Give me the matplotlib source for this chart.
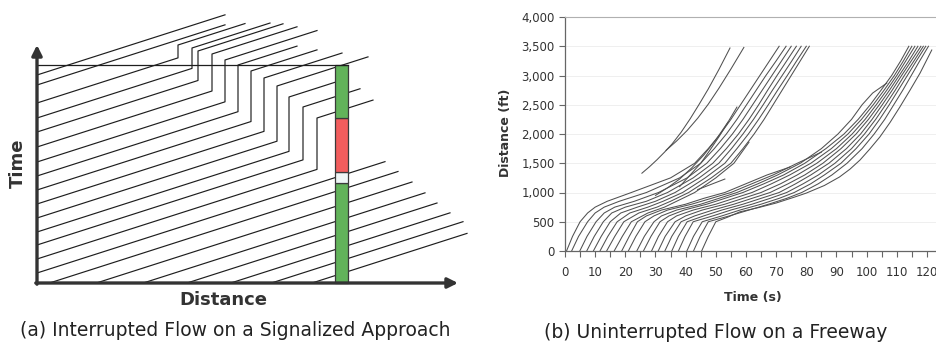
import matplotlib
matplotlib.use("Agg")
import matplotlib.pyplot as plt
from matplotlib.patches import Rectangle
from matplotlib.ticker import MultipleLocator, FuncFormatter

# ---------------- panel (a): schematic, units = screen pixels ----------------
pace = 0.32  # time units per distance unit on the approach

free_low_t0 = [-88, -75, -62, -48, -34, -19, -4, 10]
free_low_end = [430, 426, 413, 400, 388, 375, 361, 348]

queue_t0 = [24, 38, 51, 65, 79, 93, 107, 121, 136, 151, 165, 180]
queue_pos = [280, 266, 252, 240, 227, 214, 201, 188, 175, 161, 155, 141]
queue_go = [165, 176, 186, 197, 205, 212, 218, 223, 229, 232, 235, 238]
queue_end = [336, 323, 305, 331, 305, 280, 260, 280, 260, 246, 233, 208]

free_top_t0 = [198, 208]
free_top_end = [188, 188]

stop_line = [298, 311]
phase_start = [0, 100, 111, 165]
phase_end = [100, 111, 165, 218]
phase_color = ["#62b35a", "#eef6f6", "#f25d5d", "#62b35a"]

# ---------------- panel (b): freeway trajectories (time s, distance ft) ----------------
dist_b = [0, 250, 500, 650, 750, 850, 1000, 1250, 1500, 1750, 2000, 2250, 2500, 2750, 3000, 3250, 3500]
times_b = [
    [0.5, 2.5, 5.0, 7.5, 10.0, 14.0, 22.0, 35.0, 43.0, 47.5, 51.5, 55.0, 58.2, 61.4, 64.6, 67.8, 71.0],
    [2.2, 4.5, 7.5, 10.0, 13.0, 18.0, 27.0, 38.0, 45.0, 49.5, 53.5, 57.0, 60.2, 63.4, 66.6, 70.0, 73.3],
    [4.9, 7.3, 10.3, 13.0, 16.5, 23.0, 31.0, 40.5, 47.0, 51.5, 55.5, 59.0, 62.2, 65.4, 68.6, 71.8, 75.0],
    [7.2, 9.7, 12.7, 15.5, 20.0, 27.0, 34.0, 42.5, 49.0, 53.5, 57.5, 61.0, 64.2, 67.2, 70.3, 73.5, 76.7],
    [9.4, 12.0, 15.0, 18.5, 24.0, 30.0, 36.5, 44.5, 51.0, 55.2, 59.0, 62.5, 65.7, 68.8, 72.0, 75.2, 78.3],
    [11.6, 14.2, 17.3, 21.5, 27.5, 32.5, 39.0, 46.5, 53.0, 57.0, 60.8, 64.2, 67.4, 70.5, 73.7, 76.8, 80.0],
    [13.8, 16.5, 19.5, 24.5, 30.5, 35.0, 41.0, 48.5, 55.0, 59.0, 62.7, 66.0, 69.0, 72.0, 75.0, 78.0, 81.0],
]

dist_c = [0, 250, 500, 600, 700, 800, 900, 1000, 1150, 1300, 1500, 1750, 2000, 2250, 2500, 2750, 3000, 3250, 3500]
times_c = [
    [26.0, 28.5, 31.5, 34.5, 39.5, 47.0, 53.0, 59.0, 66.0, 72.5, 79.5, 86.5, 92.5, 97.2, 101.2, 104.8, 108.3, 111.3, 114.0],
    [28.7, 31.0, 34.0, 37.0, 42.5, 50.0, 56.0, 62.0, 68.5, 74.5, 81.5, 88.3, 93.8, 98.3, 102.2, 105.8, 109.2, 112.2, 115.0],
    [30.9, 33.2, 36.5, 40.0, 45.5, 53.0, 59.0, 65.0, 71.5, 77.0, 83.5, 90.0, 95.2, 99.5, 103.2, 106.7, 110.0, 113.0, 116.0],
    [33.1, 35.4, 38.5, 43.0, 49.0, 56.0, 62.0, 68.0, 74.0, 79.5, 85.5, 91.5, 96.5, 100.6, 104.2, 107.6, 110.8, 114.0, 117.0],
    [35.4, 37.6, 40.5, 46.0, 52.0, 59.0, 65.0, 71.0, 76.5, 81.5, 87.5, 93.3, 98.0, 101.8, 105.2, 108.5, 111.6, 114.8, 118.0],
    [37.6, 39.8, 42.5, 49.0, 55.0, 62.0, 68.0, 73.5, 79.0, 84.0, 89.5, 95.0, 99.3, 103.0, 106.3, 109.5, 112.5, 115.7, 118.8],
    [40.4, 42.6, 45.5, 52.0, 58.0, 65.0, 71.0, 76.0, 81.5, 86.0, 91.5, 96.5, 100.8, 104.3, 107.5, 110.5, 113.5, 116.5, 119.6],
    [42.6, 44.8, 47.5, 54.5, 61.0, 67.5, 73.5, 78.5, 84.0, 88.5, 93.5, 98.5, 102.5, 106.0, 109.0, 112.0, 114.8, 117.6, 120.5],
]

# partial trajectories (enter or leave the camera section mid-way)
part_t = [
    [18.8, 21.3, 24.0, 27.0, 32.0, 40.0, 46.0, 53.0, 60.0, 67.0, 74.6],
    [21.0, 23.5, 26.5, 29.5, 34.0, 42.0, 48.5, 55.0, 62.0, 69.0, 77.0, 85.0],
    [23.8, 26.3, 29.5, 32.0, 37.0, 45.0, 51.0, 57.0, 64.0, 70.5, 78.0, 85.0, 90.5, 95.0, 98.5, 102.0, 106.7],
    [45.3, 47.5, 50.0, 54.0, 58.0, 64.0, 70.0, 76.0, 80.0, 86.0, 91.0, 94.5, 97.8, 101.0, 104.4, 107.8, 111.0, 114.4, 117.7, 121.6],
    [16.3, 19.0, 22.0, 27.5, 33.0, 37.0, 43.0, 50.0, 56.0, 61.0],
    [25.5, 28.0, 30.5, 33.0, 35.5, 38.5, 41.5, 44.5, 47.5, 51.0, 54.7],
    [33.5, 37.0, 40.5, 44.0, 47.5, 51.0, 55.0, 59.3],
    [38.0, 41.5, 45.0, 48.0, 51.0, 54.0, 57.0],
    [44.0, 46.5, 49.0, 51.0, 53.0],
    [30.0, 34.0, 38.0, 42.0, 46.0, 50.0, 54.0],
]
part_d = [
    [0, 250, 500, 600, 700, 800, 900, 1000, 1150, 1300, 1435],
    [0, 250, 500, 600, 700, 800, 900, 1000, 1150, 1300, 1500, 1690],
    [0, 250, 500, 600, 700, 800, 900, 1000, 1150, 1300, 1500, 1750, 2000, 2250, 2500, 2700, 2870],
    [0, 250, 500, 580, 670, 740, 820, 920, 990, 1120, 1265, 1400, 1555, 1740, 1950, 2200, 2460, 2750, 3040, 3436],
    [0, 250, 500, 650, 750, 850, 1000, 1250, 1500, 1860],
    [1330, 1440, 1560, 1690, 1830, 2030, 2260, 2510, 2770, 3100, 3470],
    [1720, 1880, 2060, 2270, 2510, 2780, 3110, 3480],
    [1100, 1300, 1500, 1720, 1950, 2200, 2460],
    [1050, 1100, 1150, 1190, 1230],
    [950, 1080, 1230, 1420, 1640, 1900, 2200],
]

W, H = 936, 345
fig = plt.figure(figsize=(W / 100, H / 100), dpi=100)

# ---- left schematic ----
ax = fig.add_axes([0, 0, 470 / W, 1])
ax.set_xlim(-37, 433)
ax.set_ylim(-62, 283)
ax.axis("off")

lc = "#1e1e1e"
lw = 0.85
for t0, de in zip(free_low_t0, free_low_end):
    d0 = max(0, -t0 / pace)
    ax.plot([d0, de], [t0 + pace * d0, t0 + pace * de], color=lc, lw=lw, zorder=2)

for t0, dq, tg, de in zip(queue_t0, queue_pos, queue_go, queue_end):
    ts = t0 + pace * dq
    ax.plot([0, dq, dq, de], [t0, ts, tg, tg + pace * (de - dq)], color=lc, lw=lw, zorder=2)

for t0, de in zip(free_top_t0, free_top_end):
    ax.plot([0, de], [t0, t0 + pace * de], color=lc, lw=lw, zorder=2)

for a, b, c in zip(phase_start, phase_end, phase_color):
    ax.add_patch(Rectangle((stop_line[0], a), stop_line[1] - stop_line[0], b - a,
                           facecolor=c, edgecolor="#3a3a3a", lw=0.9, zorder=3))

ax.plot([0, stop_line[1]], [phase_end[-1], phase_end[-1]], color=lc, lw=0.9, zorder=4)

arrow = dict(arrowstyle="-|>", lw=2.4, color="#333333", mutation_scale=15,
             shrinkA=0, shrinkB=0)
ax.annotate("", xy=(0, 238), xytext=(0, -1.2), arrowprops=arrow, zorder=5)
ax.annotate("", xy=(421, 0), xytext=(-1.2, 0), arrowprops=arrow, zorder=5)

ax.text(-19, 120, "Time", rotation=90, ha="center", va="center",
        fontsize=13, fontweight="bold", color="#333333")
ax.text(186, -17, "Distance", ha="center", va="center",
        fontsize=13, fontweight="bold", color="#333333")
ax.text(198, -47, "(a) Interrupted Flow on a Signalized Approach",
        ha="center", va="center", fontsize=13.5, color="#222222")

# ---- right trajectories ----
ax2 = fig.add_axes([565 / W, (H - 251) / H, (W - 565) / W, 234 / H])
ax2.set_xlim(0, 123)
ax2.set_ylim(0, 4000)

tc = "#505050"
tw = 0.75
for tt in times_b:
    ax2.plot(tt, dist_b, color=tc, lw=tw)
for tt in times_c:
    ax2.plot(tt, dist_c, color=tc, lw=tw)
for tt, dd in zip(part_t, part_d):
    ax2.plot(tt, dd, color=tc, lw=tw)

ax2.xaxis.set_major_locator(MultipleLocator(10))
ax2.xaxis.set_minor_locator(MultipleLocator(5))
ax2.yaxis.set_major_locator(MultipleLocator(500))
ax2.yaxis.set_major_formatter(FuncFormatter(lambda v, p: f"{v:,.0f}"))
ax2.tick_params(which="both", direction="out", length=4, width=0.8, color="#666666",
                labelsize=8.5, labelcolor="#333333")
ax2.tick_params(axis="x", pad=7)
ax2.grid(axis="y", color="#ededed", lw=0.6)
ax2.set_axisbelow(True)
for s in ("left", "bottom"):
    ax2.spines[s].set_color("#666666")
    ax2.spines[s].set_linewidth(0.9)
ax2.spines["top"].set_color("#b0b0b0")
ax2.spines["top"].set_linewidth(0.8)
ax2.spines["right"].set_visible(False)

fig.text(505 / W, (H - 133) / H, "Distance (ft)", rotation=90, ha="center", va="center",
         fontsize=9, fontweight="bold", color="#333333")
fig.text(753 / W, (H - 297) / H, "Time (s)", ha="center", va="center",
         fontsize=9, fontweight="bold", color="#333333")
fig.text(716 / W, (H - 333) / H, "(b) Uninterrupted Flow on a Freeway",
         ha="center", va="center", fontsize=13.5, color="#222222")

fig.savefig("out.png", dpi=100)
